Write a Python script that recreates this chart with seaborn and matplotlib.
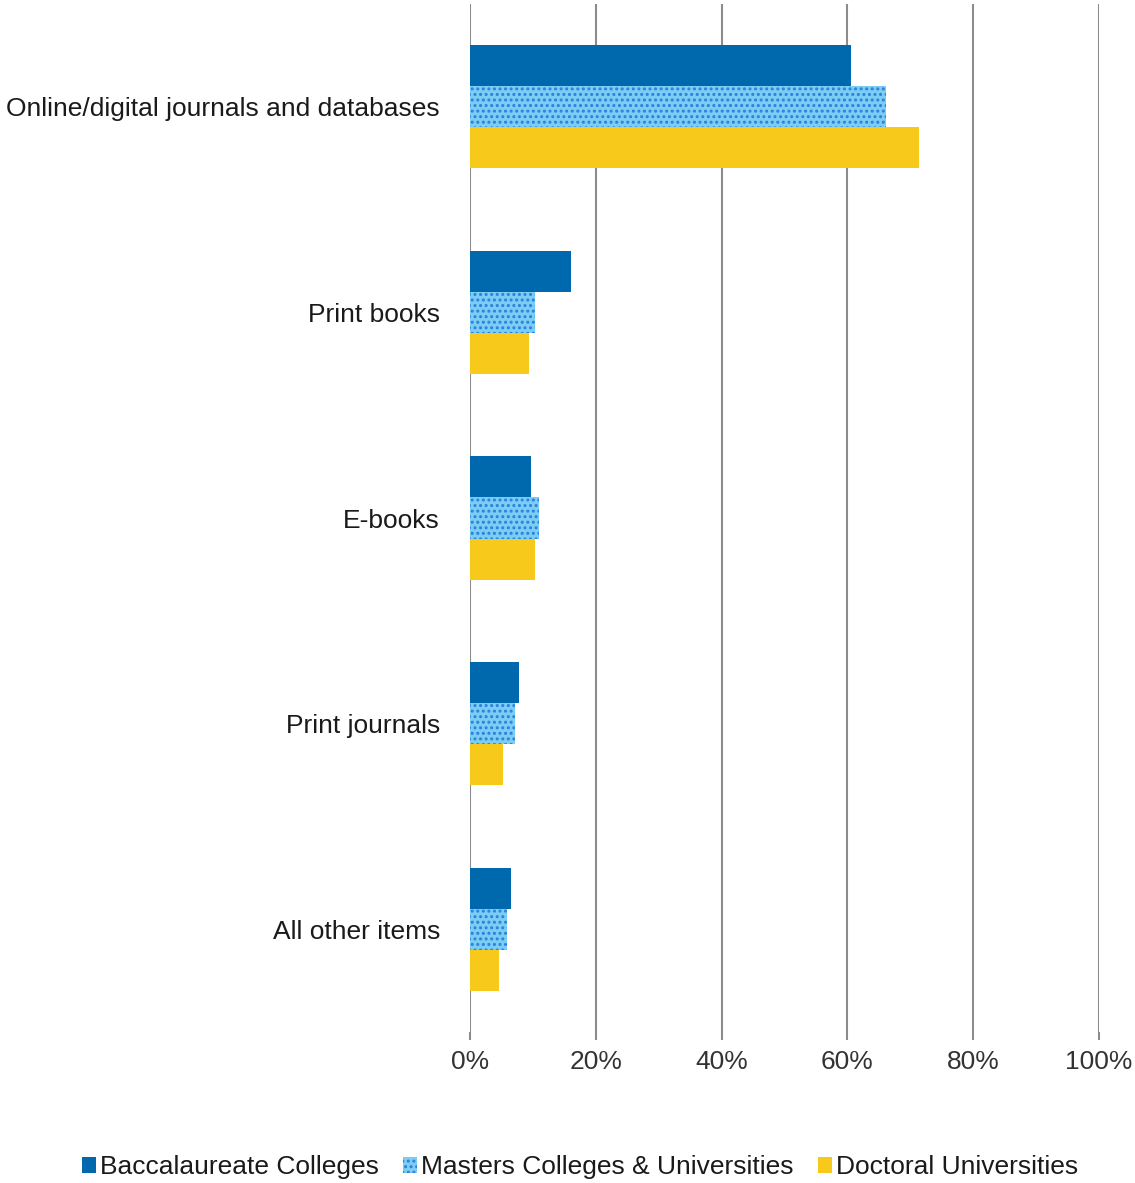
import matplotlib
matplotlib.use("Agg")
import matplotlib.pyplot as plt
import seaborn as sns
import pandas as pd
from matplotlib.patches import Patch

categories = ["Online/digital journals and databases", "Print books", "E-books",
              "Print journals", "All other items"]
series = ["Baccalaureate Colleges", "Masters Colleges & Universities", "Doctoral Universities"]
bacc = [60.5, 16.1, 9.7, 7.8, 6.5]
masters = [66.2, 10.4, 11.0, 7.1, 5.9]
doctoral = [71.4, 9.4, 10.3, 5.2, 4.6]
xticks = [0, 20, 40, 60, 80, 100]
xticklabels = ["0%", "20%", "40%", "60%", "80%", "100%"]

rows = []
for s, vals in zip(series, [bacc, masters, doctoral]):
    for c, v in zip(categories, vals):
        rows.append({"category": c, "series": s, "value": v})
df = pd.DataFrame(rows)

sns.set_theme(style="white")
plt.rcParams["font.family"] = ["Liberation Sans", "DejaVu Sans"]
plt.rcParams["hatch.linewidth"] = 1.4

c_bacc = "#0068ac"
c_mast_bg = "#7ccdf3"
c_mast_dot = "#2a7fdd"
c_doc = "#f7c91a"
palette = {series[0]: c_bacc, series[1]: c_mast_bg, series[2]: c_doc}

fig = plt.figure(figsize=(11.35, 11.83), dpi=100)
ax = fig.add_axes([470 / 1135, 1 - 1032 / 1183, 629 / 1135, 1028 / 1183])

sns.barplot(data=df, y="category", x="value", hue="series", order=categories,
            hue_order=series, palette=palette, orient="h", width=0.6,
            saturation=1, ax=ax, legend=False, zorder=3)

for cont, s in zip(ax.containers, series):
    for p in cont:
        p.set_linewidth(0)
        if s == series[1]:
            p.set_hatch("...")
            p.set_edgecolor(c_mast_dot)

ax.set_xlim(0, 100)
ax.set_xticks(xticks)
ax.set_xticklabels(xticklabels)
ax.set_xlabel("")
ax.set_ylabel("")
ax.grid(axis="x", color="#8c8c8c", linewidth=1.5, zorder=0)
ax.grid(axis="y", visible=False)
for sp in ax.spines.values():
    sp.set_visible(False)
ax.tick_params(axis="y", length=0, pad=21.6, labelsize=19, labelcolor="#1a1a1a")
ax.tick_params(axis="x", length=6, width=1.5, color="#8c8c8c", pad=7,
               labelsize=19, labelcolor="#333333", bottom=True)

handles = [Patch(facecolor=c_bacc, edgecolor="none"),
           Patch(facecolor=c_mast_bg, edgecolor=c_mast_dot, hatch="...", linewidth=0),
           Patch(facecolor=c_doc, edgecolor="none")]
fig.legend(handles, series, loc="center", bbox_to_anchor=(580 / 1135, 1 - 1167 / 1183),
           ncol=3, frameon=False, fontsize=19, handlelength=0.55, handleheight=0.55,
           handletextpad=0.15, columnspacing=0.9, labelcolor="#1a1a1a")

fig.savefig("out.png", dpi=100)
